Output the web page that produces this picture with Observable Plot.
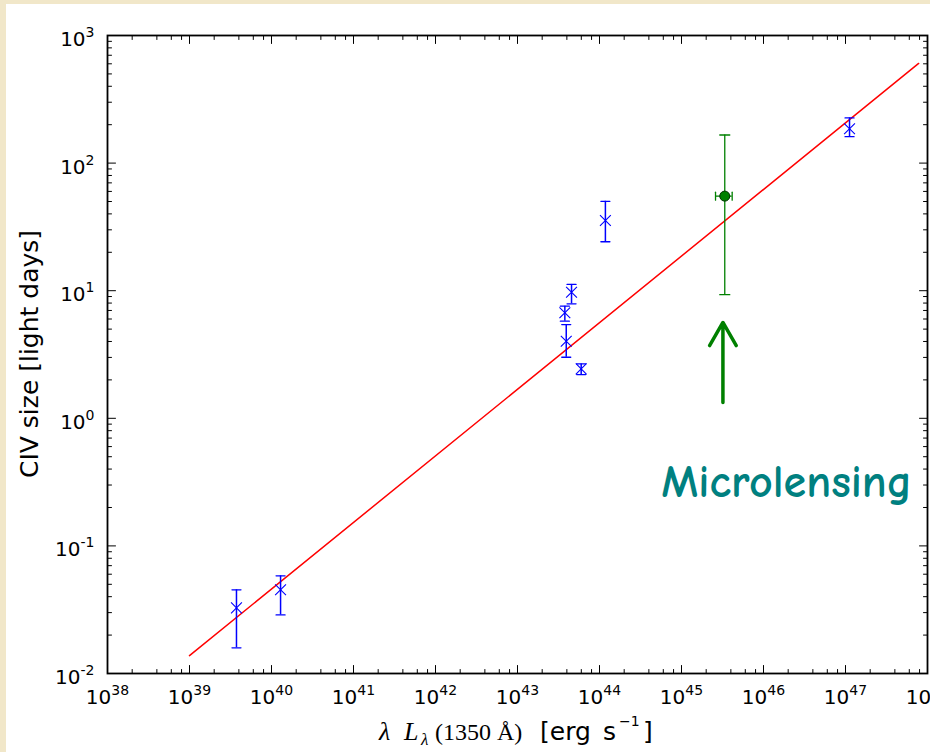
<!DOCTYPE html>
<html><head><meta charset="utf-8">
<script src="https://cdn.jsdelivr.net/npm/d3@7"></script>
<script src="https://cdn.jsdelivr.net/npm/@observablehq/plot@0.6"></script>
<style>
html,body{margin:0;padding:0;width:930px;height:752px;overflow:hidden;background:#f1e7c9;}
#sheet{position:absolute;left:6px;top:4px;width:924px;height:748px;background:#ffffff;}
#chart{position:absolute;left:0;top:0;}
</style></head>
<body><div id="sheet"></div><div id="chart"></div>
<script>
// ---- data ----
// reverberation-mapped AGN (blue crosses)
const reverbL  = [3.74e39, 1.29e40, 3.78e43, 3.93e43, 4.56e43, 5.98e43, 1.18e44, 1.12e47];
const reverbR  = [0.0327, 0.0453, 6.72, 4.02, 9.72, 2.44, 35.5, 186];
const reverbLo = [0.0159, 0.0288, 5.77, 3.01, 7.89, 2.20, 24.2, 161];
const reverbHi = [0.0453, 0.0583, 7.56, 5.43, 11.2, 2.67, 50.2, 226];
// microlensing measurement (green point)
const microL = [3.37e45], microLlo = [2.6e45], microLhi = [4.15e45];
const microR = [55.1], microRlo = [9.3], microRhi = [166];
// fitted relation (red line end points)
const fitL = [1e39, 7.8e47];
const fitR = [0.0138, 604];
// annotation arrow and label
const arrowL = [3.2e45], arrowFrom = [1.33], arrowTo = [5.64];
const labelL = [5.65e44], labelR = [0.318], labelText = ["Microlensing"];
// axes
const xExponents = [38, 39, 40, 41, 42, 43, 44, 45, 46, 47, 48];
const yExponents = [-2, -1, 0, 1, 2, 3];
const xMinorSubs = [2, 4, 6, 8];
const yMinorSubs = [2, 3, 4, 5, 6, 7, 8, 9];
const yTitle = "CIV size [light days]";

// ---- build tables ----
const reverb = reverbL.map((L, i) => ({L, R: reverbR[i], lo: reverbLo[i], hi: reverbHi[i]}));
const micro = microL.map((L, i) => ({L, Llo: microLlo[i], Lhi: microLhi[i], R: microR[i], lo: microRlo[i], hi: microRhi[i]}));
const fit = fitL.map((L, i) => ({L, R: fitR[i]}));
const arrow = arrowL.map((L, i) => ({L, R1: arrowFrom[i], R2: arrowTo[i]}));
const label = labelL.map((L, i) => ({L, R: labelR[i], t: labelText[i]}));
const xMajor = xExponents.map(e => Math.pow(10, e));
const yMajor = yExponents.map(e => Math.pow(10, e));
const xMinor = xExponents.slice(0, -1).flatMap(e => xMinorSubs.map(s => s * Math.pow(10, e)));
const yMinor = yExponents.slice(0, -1).flatMap(e => yMinorSubs.map(s => s * Math.pow(10, e)));

const blue = "#0000ff", green = "#008000";
const line = {draw(ctx, l) { ctx.moveTo(0, 0); ctx.lineTo(0, -l); }};
const ticks = (data, anchor, rot, len) =>
  Plot.vector(data, {[anchor === "top" || anchor === "bottom" ? "x" : "y"]: d => d,
    frameAnchor: anchor, rotate: rot, length: len, anchor: "start", shape: line,
    stroke: "black", strokeWidth: 1});

const chart = Plot.plot({
  width: 930, height: 752,
  marginLeft: 107, marginRight: 3, marginTop: 35, marginBottom: 79,
  style: {background: "transparent", fontFamily: "DejaVu Sans", fontSize: "20px", color: "black", overflow: "visible"},
  x: {type: "log", domain: [1e38, 1e48], label: null},
  y: {type: "log", domain: [1e-2, 1e3], label: null},
  marks: [
    Plot.line(fit, {x: "L", y: "R", stroke: "#ff0000", strokeWidth: 1.5}),
    // blue error bars
    Plot.ruleX(reverb, {x: "L", y1: "lo", y2: "hi", stroke: blue, strokeWidth: 1.5}),
    Plot.vector(reverb, {x: "L", y: "lo", rotate: 90, length: 9, shape: line, stroke: blue, strokeWidth: 1.3}),
    Plot.vector(reverb, {x: "L", y: "hi", rotate: 90, length: 9, shape: line, stroke: blue, strokeWidth: 1.3}),
    Plot.dot(reverb, {x: "L", y: "R", symbol: "times", r: 5, stroke: blue, strokeWidth: 1.1}),
    // green point with error bars
    Plot.ruleX(micro, {x: "L", y1: "lo", y2: "hi", stroke: green, strokeWidth: 1.3}),
    Plot.ruleY(micro, {y: "R", x1: "Llo", x2: "Lhi", stroke: green, strokeWidth: 1.3}),
    Plot.vector(micro, {x: "L", y: "lo", rotate: 90, length: 10, shape: line, stroke: green, strokeWidth: 1.3}),
    Plot.vector(micro, {x: "L", y: "hi", rotate: 90, length: 10, shape: line, stroke: green, strokeWidth: 1.3}),
    Plot.vector(micro, {x: "Llo", y: "R", rotate: 0, length: 8, shape: line, stroke: green, strokeWidth: 1.3}),
    Plot.vector(micro, {x: "Lhi", y: "R", rotate: 0, length: 8, shape: line, stroke: green, strokeWidth: 1.3}),
    Plot.dot(micro, {x: "L", y: "R", r: 5, fill: green, stroke: "#003300", strokeWidth: 1}),
    // annotation
    Plot.arrow(arrow, {x: "L", y1: "R1", y2: "R2", stroke: green, strokeWidth: 3.5, headLength: 20, headAngle: 60}),
    Plot.text(label, {x: "L", y: "R", text: "t", textAnchor: "start", fill: "#008080",
      fontSize: 46, fontWeight: 700, fontFamily: "'Comic Sans MS', 'Comic Neue', 'Open Sans', sans-serif"}),
    // ticks (inside, all four sides)
    ticks(xMajor, "bottom", 0, 8), ticks(xMinor, "bottom", 0, 4),
    ticks(xMajor, "top", 180, 8), ticks(xMinor, "top", 180, 4),
    ticks(yMajor, "left", 90, 8), ticks(yMinor, "left", 90, 4),
    ticks(yMajor, "right", -90, 8), ticks(yMinor, "right", -90, 4),
    // tick labels
    Plot.axisX(xMajor, {anchor: "bottom", tickSize: 0, tickPadding: 16, label: null, fontSize: 20,
      tickFormat: d => "10^" + Math.round(Math.log10(d))}),
    Plot.axisY(yMajor, {anchor: "left", tickSize: 0, tickPadding: 13, dy: 4, label: null, fontSize: 20,
      tickFormat: d => "10^" + Math.round(Math.log10(d))}),
    Plot.frame({stroke: "black", strokeWidth: 1.8})
  ]
});
document.getElementById("chart").append(chart);

// superscripts in tick labels
const svg = d3.select(chart);
svg.selectAll('g[aria-label$="tick label"] text').each(function() {
  const t = d3.select(this);
  const s = this.textContent;
  if (!s.includes("^")) return;
  const [base, exp] = s.split("^");
  t.text(base);
  t.append("tspan").attr("dy", -9).attr("font-size", 14).text(exp);
});

// y axis title
svg.append("text")
  .attr("transform", "translate(38,354) rotate(-90)")
  .attr("text-anchor", "middle")
  .attr("font-family", "DejaVu Sans").attr("font-size", 25).attr("fill", "black")
  .text(yTitle);

// x axis title: λ L_λ(1350 Å) [erg s^-1]
const xt = svg.append("text").attr("y", 740).attr("fill", "black").attr("text-anchor", "start");
const serif = "'Liberation Serif', 'DejaVu Serif', serif";
xt.append("tspan").attr("x", 379).attr("font-family", serif).attr("font-style", "italic").attr("font-size", 26).text("λ");
xt.append("tspan").attr("x", 404).attr("font-family", serif).attr("font-style", "italic").attr("font-size", 26).text("L");
xt.append("tspan").attr("x", 421).attr("y", 745).attr("font-family", serif).attr("font-style", "italic").attr("font-size", 17).text("λ");
xt.append("tspan").attr("x", 435).attr("y", 740).attr("font-family", serif).attr("font-size", 24).text("(1350 Å)");
xt.append("tspan").attr("x", 540).attr("font-family", "DejaVu Sans").attr("font-size", 25).text("[erg");
xt.append("tspan").attr("x", 603).attr("font-family", "DejaVu Sans").attr("font-size", 25).text("s");
xt.append("tspan").attr("x", 619).attr("y", 726).attr("font-family", "DejaVu Sans").attr("font-size", 14).text("−1");
xt.append("tspan").attr("x", 643).attr("y", 740).attr("font-family", "DejaVu Sans").attr("font-size", 25).text("]");
</script>
</body></html>
